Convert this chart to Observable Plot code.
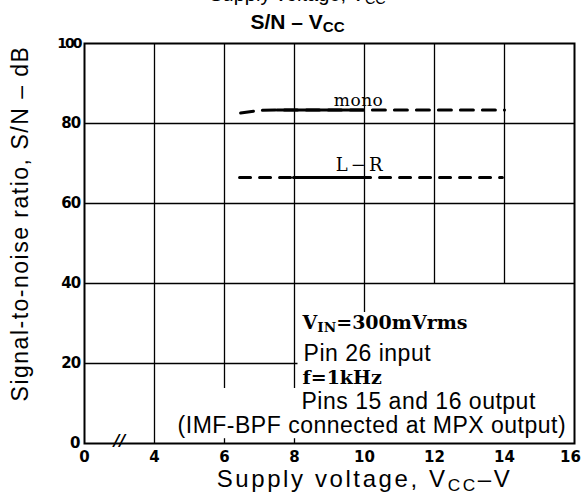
<!DOCTYPE html>
<html>
<head>
<meta charset="utf-8">
<script src="https://cdn.jsdelivr.net/npm/d3@7"></script>
<script src="https://cdn.jsdelivr.net/npm/@observablehq/plot@0.6"></script>
<style>
  html, body { margin: 0; padding: 0; background: #fff; }
  #chart { width: 584px; height: 495px; }
</style>
</head>
<body>
<div id="chart"></div>
<script>
// ---- data ----
const xTicks = [2, 4, 6, 8, 10, 12, 14, 16];
const xTickLabels = ["0", "4", "6", "8", "10", "12", "14", "16"];
const yTicks = [0, 20, 40, 60, 80, 100];
const yTickLabels = ["0", "20", "40", "60", "80", "100"];

const monoDashX = [6.46, 6.97, 7.5, 14.0];
const monoDashY = [82.6, 83.25, 83.4, 83.4];
const monoSolidX = [7.5, 9.97];
const monoSolidY = [83.4, 83.4];

const lrDashX = [6.43, 13.94];
const lrDashY = [66.5, 66.5];
const lrSolidX = [7.97, 9.97];
const lrSolidY = [66.5, 66.5];

// grid segments (lines interrupted by the note block)
const vGridX = [4, 6, 8, 10, 12, 14];
const vGridFrom = [0, 13.75, 13.75, 32.75, 40, 40];
const vGridTo = [100, 100, 100, 100, 100, 100];
const hGridY = [20, 40, 60, 80];
const hGridFrom = [2, 2, 2, 2];
const hGridTo = [8.1, 16, 16, 16];

const minorTickX = [6, 8];

const title = "S/N – V_{CC}";
const topCutText = "Supply voltage, V_{CC}";
const xLabel = "Supply voltage, V_{CC}–V";
const yLabel = "Signal-to-noise ratio, S/N – dB";

const seriesLabels = [
  {text: "mono", x: 9.83, y: 84.5},
  {text: "L−R", x: 9.89, y: 68.1}
];
const serifNotes = [
  {text: "V_{IN}=300mVrms", x: 8.23, y: 28.75},
  {text: "f=1kHz", x: 8.23, y: 15}
];
const sansNotes = [
  {text: "Pin 26 input", x: 8.26, y: 20.75},
  {text: "Pins 15 and 16 output", x: 8.2, y: 8.75},
  {text: "(IMF-BPF connected at MPX output)", x: 4.66, y: 2.75}
];

const pts = (xs, ys) => xs.map((x, i) => ({x, y: ys[i]}));
const vGrid = vGridX.map((x, i) => ({x, y1: vGridFrom[i], y2: vGridTo[i]}));
const hGrid = hGridY.map((y, i) => ({y, x1: hGridFrom[i], x2: hGridTo[i]}));

const plot = Plot.plot({
  width: 584,
  height: 495,
  marginTop: 43,
  marginBottom: 52,
  marginLeft: 84,
  marginRight: 10,
  x: {domain: [2, 16], axis: null},
  y: {domain: [0, 100], axis: null},
  style: {fontFamily: "Liberation Sans", background: "#fff", color: "#000"},
  marks: [
    Plot.ruleX(vGrid, {x: "x", y1: "y1", y2: "y2", stroke: "#000", strokeWidth: 1.3}),
    Plot.ruleY(hGrid, {y: "y", x1: "x1", x2: "x2", stroke: "#000", strokeWidth: 1.3}),
    Plot.ruleX(minorTickX, {y1: 0, y2: 1.2, stroke: "#000", strokeWidth: 1.3}),
    Plot.frame({stroke: "#000", strokeWidth: 2}),
    // tick labels
    Plot.text(xTicks, {
      x: d => d, frameAnchor: "bottom", dy: 8, lineAnchor: "top",
      text: d => xTickLabels[xTicks.indexOf(d)],
      fontSize: 15, fontWeight: "bold", fontFamily: "DejaVu Sans"
    }),
    Plot.text(yTicks, {
      y: d => d, frameAnchor: "left", dx: -4, textAnchor: "end", lineAnchor: "middle",
      text: d => yTickLabels[yTicks.indexOf(d)],
      fontSize: 15, fontWeight: "bold", fontFamily: "DejaVu Sans"
    }),
    // data lines
    Plot.line(pts(monoDashX, monoDashY), {x: "x", y: "y", stroke: "#000", strokeWidth: 3, strokeDasharray: "13,9"}),
    Plot.line(pts(monoSolidX, monoSolidY), {x: "x", y: "y", stroke: "#000", strokeWidth: 3}),
    Plot.line(pts(lrDashX, lrDashY), {x: "x", y: "y", stroke: "#000", strokeWidth: 3, strokeDasharray: "11,9"}),
    Plot.line(pts(lrSolidX, lrSolidY), {x: "x", y: "y", stroke: "#000", strokeWidth: 3}),
    // axis break
    Plot.text(["//"], {x: 3, y: 0, dy: -3, text: d => d, fontSize: 16, fontWeight: "bold", fontFamily: "DejaVu Sans", fontStyle: "italic"}),
    // series labels
    Plot.text(seriesLabels, {x: "x", y: "y", text: "text", lineAnchor: "bottom", fontSize: 17, fontFamily: "DejaVu Serif"}),
    // notes
    Plot.text(serifNotes, {x: "x", y: "y", text: "text", textAnchor: "start", lineAnchor: "bottom", fontSize: 19, fontWeight: "bold", fontFamily: "DejaVu Serif"}),
    Plot.text(sansNotes, {x: "x", y: "y", text: "text", textAnchor: "start", lineAnchor: "bottom", fontSize: 23, fontFamily: "Liberation Sans"}),
    // axis labels
    Plot.text([xLabel], {x: 10, frameAnchor: "bottom", dy: 43, lineAnchor: "bottom", text: d => d, fontSize: 24, fontFamily: "Liberation Sans"}),
    Plot.text([yLabel], {frameAnchor: "left", textAnchor: "middle", lineAnchor: "middle", rotate: -90, dx: -64, dy: -20, text: d => d, fontSize: 23, fontFamily: "Liberation Sans"}),
    // titles
    Plot.text([title], {frameAnchor: "top", dx: -32, dy: -15, lineAnchor: "bottom", text: d => d, fontSize: 21, fontWeight: "bold", fontFamily: "Liberation Sans"}),
    Plot.text([topCutText], {frameAnchor: "top", dx: -32, dy: -43, lineAnchor: "bottom", text: d => d, fontSize: 20, fontFamily: "Liberation Sans"})
  ]
});

document.getElementById("chart").appendChild(plot);

// per-text letter spacing tweaks, matched by content
const allText = d3.select(plot).selectAll("text");
function styleTexts(strings, fn) {
  allText.filter(function () { return strings.includes(this.textContent); }).each(function () { fn(d3.select(this)); });
}
styleTexts(sansNotes.map(d => d.text), s => s.style("letter-spacing", "0.5px"));
styleTexts([yLabel], s => s.style("letter-spacing", "1.5px"));
styleTexts([xLabel], s => s.style("letter-spacing", "2.6px"));
styleTexts(["20", "40", "60", "80"], s => s.style("letter-spacing", "-0.8px"));
styleTexts(["100"], s => s.style("letter-spacing", "-2px").attr("font-size", 14));
styleTexts(["mono"], s => s.style("letter-spacing", "0.5px"));
styleTexts(["L−R"], s => s.style("letter-spacing", "3px").attr("font-size", 18));
styleTexts(["16"], s => s.attr("dx", -4));

// subscripts: "_{...}"
allText.each(function () {
  const t = this;
  const s = t.textContent;
  if (!s.includes("_{")) return;
  const fs = parseFloat(getComputedStyle(t).fontSize) || 16;
  const shift = 0.18 * fs;
  const parts = s.split(/(_\{[^}]*\})/).filter(p => p);
  while (t.firstChild) t.removeChild(t.firstChild);
  let prevSub = false;
  for (const p of parts) {
    const ts = document.createElementNS("http://www.w3.org/2000/svg", "tspan");
    if (p.startsWith("_{")) {
      ts.textContent = p.slice(2, -1);
      ts.setAttribute("font-size", (0.72 * fs).toFixed(1));
      ts.setAttribute("dy", shift.toFixed(1));
      prevSub = true;
    } else {
      ts.textContent = p;
      if (prevSub) ts.setAttribute("dy", (-shift).toFixed(1));
      prevSub = false;
    }
    t.appendChild(ts);
  }
});
</script>
</body>
</html>
